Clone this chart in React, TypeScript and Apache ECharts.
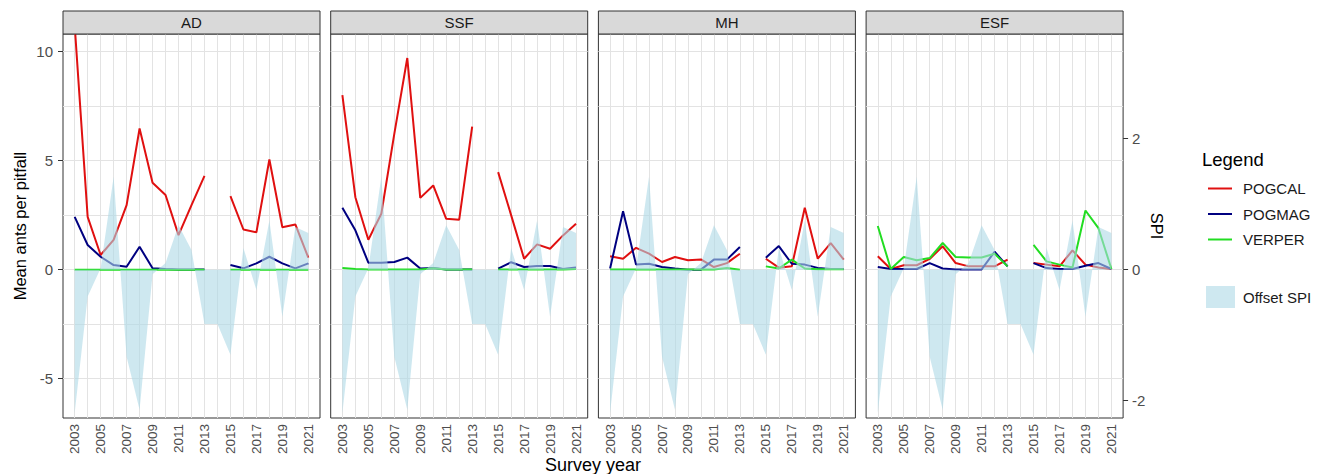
import React, { useEffect, useRef } from "react";
import * as echarts from "echarts";

// ---------- data ----------
const years = [2003, 2004, 2005, 2006, 2007, 2008, 2009, 2010, 2011, 2012, 2013, 2014, 2015, 2016, 2017, 2018, 2019, 2020, 2021];
const xTickYears = [2003, 2005, 2007, 2009, 2011, 2013, 2015, 2017, 2019, 2021];
const antTicks = [-5, 0, 5, 10];
const antGridValues = [-5, -2.5, 0, 2.5, 5, 7.5, 10];
const spiTicks = [-2, 0, 2];
const panelNames = ["AD", "SSF", "MH", "ESF"];
const speciesNames = ["POGCAL", "POGMAG", "VERPER"];
const speciesColors = ["#e01010", "#000080", "#22dd22"];

// Standardised precipitation index (right axis)
const offsetSPI = [-2.19, -0.41, 0.02, 1.42, -1.33, -2.14, -0.07, 0.1, 0.68, 0.3, -0.83, -0.83, -1.3, 0.33, -0.31, 0.75, -0.72, 0.65, 0.56];

const AD_POGCAL = [11.2, 2.42, 0.67, 1.36, 2.96, 6.47, 3.98, 3.42, 1.58, 2.96, 4.3, null, 3.37, 1.84, 1.71, 5.05, 1.94, 2.07, 0.55];
const AD_POGMAG = [2.42, 1.13, 0.59, 0.21, 0.13, 1.05, 0.06, 0.03, 0.01, 0.01, 0.01, null, 0.21, 0.06, 0.29, 0.59, 0.29, 0.06, 0.29];
const AD_VERPER = [0, 0, 0, 0, 0, 0, 0, 0, 0, 0, 0, null, 0, 0, 0, 0, 0, 0, 0];

const SSF_POGCAL = [8.0, 3.32, 1.37, 2.56, 6.22, 9.7, 3.29, 3.86, 2.33, 2.29, 6.55, null, 4.47, 2.5, 0.5, 1.16, 0.96, 1.57, 2.1];
const SSF_POGMAG = [2.84, 1.8, 0.32, 0.32, 0.35, 0.55, 0.05, 0.08, 0.01, 0.01, 0.01, null, 0.05, 0.34, 0.12, 0.17, 0.17, 0.03, 0.1];
const SSF_VERPER = [0.08, 0.03, 0.01, 0.01, 0.01, 0.01, 0.01, 0.06, 0.01, 0.01, 0.01, null, 0.01, 0.01, 0.01, 0.01, 0.01, 0.01, 0.03];

const MH_POGCAL = [0.61, 0.5, 1.0, 0.73, 0.35, 0.58, 0.43, 0.47, 0.12, 0.3, 0.73, null, 0.5, 0.09, 0.15, 2.84, 0.5, 1.22, 0.46];
const MH_POGMAG = [0.05, 2.68, 0.23, 0.27, 0.12, 0.05, 0.0, 0.0, 0.46, 0.46, 1.04, null, 0.55, 1.08, 0.27, 0.23, 0.08, 0.03, 0.03];
const MH_VERPER = [0.01, 0.01, 0.01, 0.01, 0.01, 0.01, 0.01, 0.01, 0.01, 0.08, 0.0, null, 0.15, 0.05, 0.46, 0.05, 0.02, 0.02, 0.02];

const ESF_POGCAL = [0.61, 0.03, 0.2, 0.2, 0.49, 1.07, 0.3, 0.15, 0.15, 0.15, 0.46, null, 0.3, 0.23, 0.15, 0.88, 0.23, 0.1, 0.03];
const ESF_POGMAG = [0.12, 0.03, 0.03, 0.03, 0.3, 0.05, 0.01, 0.01, 0.01, 0.82, 0.15, null, 0.3, 0.07, 0.03, 0.03, 0.18, 0.3, 0.03];
const ESF_VERPER = [2.0, 0.03, 0.58, 0.43, 0.53, 1.22, 0.58, 0.56, 0.56, 0.73, 0.15, null, 1.14, 0.38, 0.23, 0.1, 2.71, 1.9, 0.03];

const panelSeries = [
  [AD_POGCAL, AD_POGMAG, AD_VERPER],
  [SSF_POGCAL, SSF_POGMAG, SSF_VERPER],
  [MH_POGCAL, MH_POGMAG, MH_VERPER],
  [ESF_POGCAL, ESF_POGMAG, ESF_VERPER],
];

// ---------- layout / style ----------
const FONT = '"Liberation Sans", Arial, Helvetica, sans-serif';
const W = 1327;
const H = 474;
const PANEL_LEFT0 = 63;
const PANEL_STEP = 267.7;
const PANEL_W = 257;
const PANEL_TOP = 34;
const PANEL_H = 384;
const STRIP_TOP = 11;
const STRIP_H = 23;
const X_MIN = 2002.1;
const X_MAX = 2021.9;
const Y_MIN = -6.8;
const Y_MAX = 10.8;
const SPI_FACTOR = 3;
const SPI_FILL = "rgba(173,216,230,0.6)";
const GRID_COLOR = "#e3e3e3";
const BORDER = "#333333";
const TICK_TEXT = "#4d4d4d";

const fmt = (v: number) => String(v);

function buildOption() {
  const grids: any[] = [];
  const xAxes: any[] = [];
  const yAxes: any[] = [];
  const series: any[] = [];
  const graphics: any[] = [];

  panelNames.forEach((name, i) => {
    const left = PANEL_LEFT0 + i * PANEL_STEP;
    grids.push({
      left,
      top: PANEL_TOP,
      width: PANEL_W,
      height: PANEL_H,
      show: true,
      borderColor: BORDER,
      borderWidth: 1,
      backgroundColor: "rgba(0,0,0,0)",
    });
    xAxes.push({
      type: "value",
      gridIndex: i,
      min: X_MIN,
      max: X_MAX,
      axisLine: { show: false },
      axisTick: { show: true, customValues: xTickYears, length: 5, lineStyle: { color: BORDER, width: 1 } },
      axisLabel: {
        show: true,
        customValues: xTickYears,
        rotate: 90,
        margin: 6,
        fontSize: 13.5,
        color: TICK_TEXT,
        fontFamily: FONT,
        formatter: fmt,
      },
      splitLine: { show: false },
    });
    yAxes.push({
      type: "value",
      gridIndex: i,
      position: "left",
      min: Y_MIN,
      max: Y_MAX,
      axisLine: { show: false },
      axisTick: { show: i === 0, customValues: antTicks, length: 5, lineStyle: { color: BORDER, width: 1 } },
      axisLabel: {
        show: i === 0,
        customValues: antTicks,
        margin: 10,
        fontSize: 15,
        color: TICK_TEXT,
        fontFamily: FONT,
        formatter: fmt,
      },
      splitLine: { show: false },
    });
    yAxes.push({
      type: "value",
      gridIndex: i,
      position: "right",
      min: Y_MIN / SPI_FACTOR,
      max: Y_MAX / SPI_FACTOR,
      axisLine: { show: false },
      axisTick: { show: i === 3, customValues: spiTicks, length: 5, lineStyle: { color: BORDER, width: 1 } },
      axisLabel: {
        show: i === 3,
        customValues: spiTicks,
        margin: 9,
        fontSize: 15,
        color: TICK_TEXT,
        fontFamily: FONT,
        formatter: fmt,
      },
      splitLine: { show: false },
    });

    // panel grid lines
    series.push({
      type: "line",
      name: "grid-" + name,
      xAxisIndex: i,
      yAxisIndex: 2 * i,
      data: [],
      z: 1,
      silent: true,
      markLine: {
        z: 1,
        silent: true,
        symbol: ["none", "none"],
        label: { show: false },
        emphasis: { disabled: true },
        lineStyle: { color: GRID_COLOR, width: 1, type: "solid" },
        data: [
          ...antGridValues.map((v) => ({ yAxis: v })),
          ...years.map((y) => ({ xAxis: y })),
        ],
      },
    });

    // species lines
    panelSeries[i].forEach((arr, s) => {
      series.push({
        type: "line",
        name: speciesNames[s],
        xAxisIndex: i,
        yAxisIndex: 2 * i,
        data: years.map((y, k) => [y, arr[k]]),
        symbol: "none",
        showSymbol: false,
        connectNulls: false,
        color: speciesColors[s],
        lineStyle: { width: 2, color: speciesColors[s] },
        emphasis: { disabled: true },
        silent: true,
        z: 3,
      });
    });

    // SPI area (drawn on top, translucent)
    series.push({
      type: "line",
      name: "Offset SPI",
      xAxisIndex: i,
      yAxisIndex: 2 * i + 1,
      data: years.map((y, k) => [y, offsetSPI[k]]),
      symbol: "none",
      showSymbol: false,
      color: SPI_FILL,
      lineStyle: { width: 0, color: SPI_FILL },
      areaStyle: { color: SPI_FILL, opacity: 1 },
      emphasis: { disabled: true },
      silent: true,
      z: 4,
    });

    // strip
    graphics.push({
      type: "rect",
      shape: { x: left, y: STRIP_TOP, width: PANEL_W, height: STRIP_H },
      style: { fill: "#d9d9d9", stroke: BORDER, lineWidth: 1 },
      z: 10,
    });
    graphics.push({
      type: "text",
      x: left + PANEL_W / 2,
      y: STRIP_TOP + STRIP_H / 2,
      style: {
        text: name,
        fontSize: 15,
        fontFamily: FONT,
        fill: "#1a1a1a",
        textAlign: "center",
        textVerticalAlign: "middle",
        align: "center",
        verticalAlign: "middle",
      },
      z: 11,
    });
  });

  const titleStyle = (text: string, size: number) => ({
    text,
    fontSize: size,
    fontFamily: FONT,
    fill: "#000000",
    textAlign: "center",
    textVerticalAlign: "middle",
    align: "center",
    verticalAlign: "middle",
  });

  graphics.push({
    type: "text",
    x: 20,
    y: PANEL_TOP + PANEL_H / 2,
    rotation: Math.PI / 2,
    style: titleStyle("Mean ants per pitfall", 16.5),
  });
  graphics.push({
    type: "text",
    x: 1157,
    y: PANEL_TOP + PANEL_H / 2,
    rotation: -Math.PI / 2,
    style: titleStyle("SPI", 16.5),
  });
  graphics.push({
    type: "text",
    x: (PANEL_LEFT0 + PANEL_LEFT0 + 3 * PANEL_STEP + PANEL_W) / 2,
    y: 465,
    style: titleStyle("Survey year", 18),
  });
  graphics.push({
    type: "text",
    x: 1202,
    y: 159,
    style: {
      text: "Legend",
      fontSize: 18.5,
      fontFamily: FONT,
      fill: "#000000",
      textAlign: "left",
      textVerticalAlign: "middle",
      align: "left",
      verticalAlign: "middle",
    },
  });

  return {
    animation: false,
    backgroundColor: "#ffffff",
    textStyle: { fontFamily: FONT },
    grid: grids,
    xAxis: xAxes,
    yAxis: yAxes,
    series,
    legend: [
      {
        data: speciesNames.map((n) => ({ name: n, icon: "rect" })),
        orient: "vertical",
        left: 1203,
        top: 176,
        itemWidth: 24,
        itemHeight: 2,
        itemGap: 10.5,
        itemStyle: { borderWidth: 0 },
        selectedMode: false,
        textStyle: { fontSize: 15, color: "#1a1a1a", fontFamily: FONT, lineHeight: 14, padding: [0, 0, 0, 6] },
      },
      {
        data: [{ name: "Offset SPI", icon: "rect", itemStyle: { color: SPI_FILL, borderWidth: 0 } }],
        orient: "vertical",
        left: 1201,
        top: 281,
        itemWidth: 29,
        itemHeight: 22,
        itemStyle: { borderWidth: 0 },
        selectedMode: false,
        textStyle: { fontSize: 15, color: "#1a1a1a", fontFamily: FONT, padding: [0, 0, 0, 3] },
      },
    ],
    graphic: graphics,
  };
}

export default function App() {
  const ref = useRef<HTMLDivElement>(null);
  useEffect(() => {
    document.body.style.margin = "0";
    if (!ref.current) return;
    const chart = echarts.init(ref.current, undefined, { renderer: "svg", width: W, height: H });
    chart.setOption(buildOption() as any);
    return () => {
      chart.dispose();
    };
  }, []);
  return <div ref={ref} style={{ width: W, height: H, background: "#ffffff" }} />;
}
